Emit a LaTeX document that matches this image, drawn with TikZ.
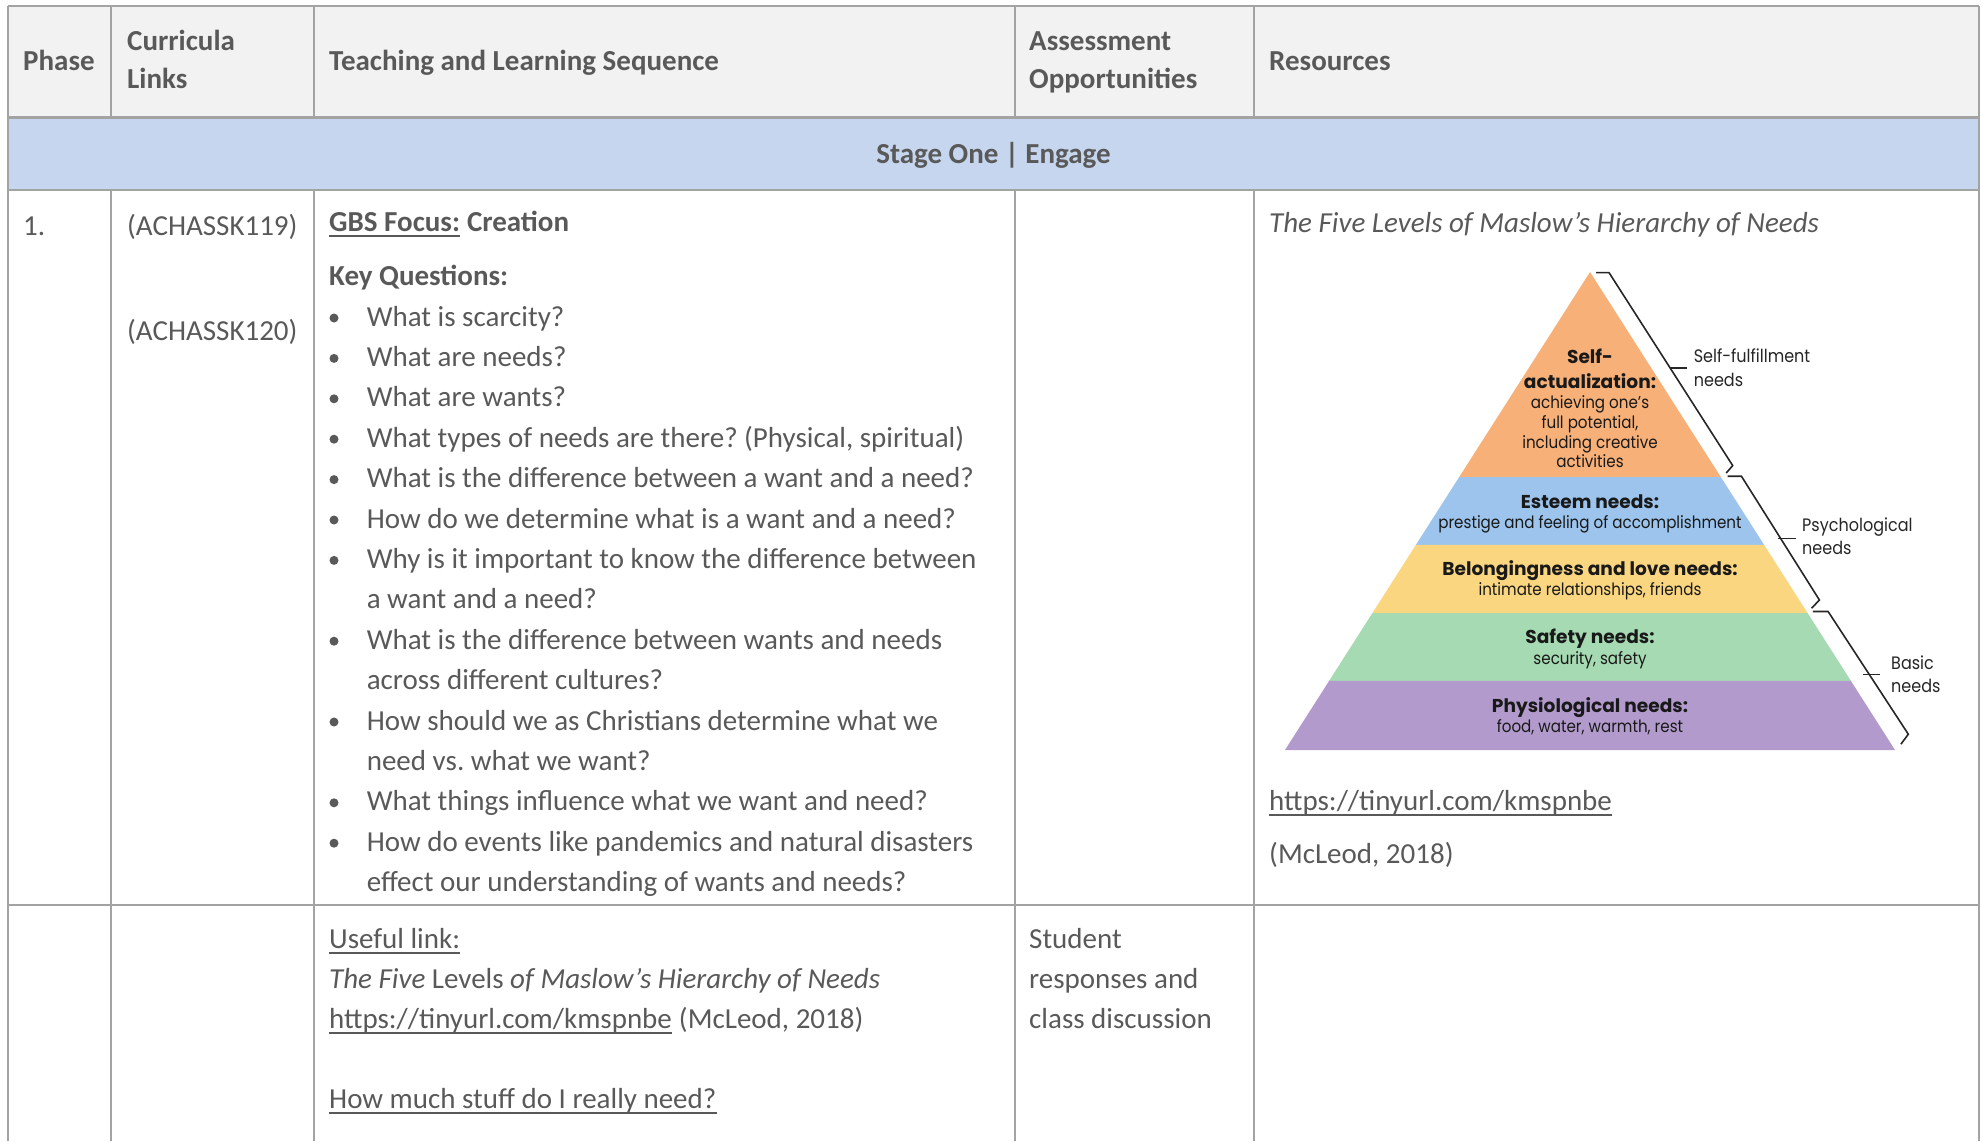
\documentclass[tikz,border=0pt]{standalone}
\usepackage{fontspec}
\setmainfont{Carlito}
\newfontfamily\pyrfont[FakeStretch=0.89]{Poppins}
\newfontfamily\pyrheadfont{Poppins}
\usepackage{tikz}
\usetikzlibrary{calc}

\definecolor{textgrey}{HTML}{595959}
\definecolor{gridgrey}{HTML}{A3A3A3}
\definecolor{headfill}{HTML}{F2F2F2}
\definecolor{stagefill}{HTML}{C6D6EE}
\definecolor{pyrorange}{HTML}{F7B078}
\definecolor{pyrblue}{HTML}{9CC4EC}
\definecolor{pyryellow}{HTML}{FBD680}
\definecolor{pyrgreen}{HTML}{A6DAB2}
\definecolor{pyrpurple}{HTML}{B29BCC}

\frenchspacing
\begin{document}
\begin{tikzpicture}[
    x=1pt, y=-1pt,
    body_text_style/.style={anchor=base west, inner sep=0pt, text=textgrey, font=\fontsize{29}{40}\selectfont},
    head_text_style/.style={body_text_style, font=\fontsize{29}{40}\selectfont\bfseries},
    ital_text_style/.style={body_text_style, font=\fontsize{29}{40}\selectfont\itshape},
    pyr_text_style/.style={anchor=base, inner sep=0pt, text=black!90, font=\pyrfont\fontsize{17}{20}\selectfont},
    pyr_head_style/.style={pyr_text_style, font=\pyrheadfont\fontsize{18.6}{20}\selectfont\bfseries},
    pyr_label_style/.style={anchor=base west, inner sep=0pt, text=black!85, font=\pyrfont\fontsize{18}{24}\selectfont},
    grid_line_style/.style={draw=gridgrey, line width=2pt},
    rule_line_style/.style={draw=gridgrey, line width=2.8pt},
    under_line_style/.style={draw=textgrey, line width=1.8pt},
    brace_line_style/.style={draw=black!85, line width=1.6pt}
]
\useasboundingbox (0,0) rectangle (1982,1141);

% Table fills and rules
\fill[headfill] (8,6) rectangle (1979,117.5);
\fill[stagefill] (8,117.5) rectangle (1979,190);
\foreach \y in {6,117.5,190,905}
    \draw[rule_line_style] (8,\y) -- (1979,\y);
\foreach \x in {8,1979}
    \draw[grid_line_style] (\x,6) -- (\x,1141);
\foreach \x in {111,314,1015,1254} {
    \draw[grid_line_style] (\x,6) -- (\x,117.5);
    \draw[grid_line_style] (\x,190) -- (\x,1141);
}

% Header row
\node[head_text_style] (phase_head) at (23,70) {Phase};
\node[head_text_style] (links_head_a) at (127,50) {Curricula};
\node[head_text_style] (links_head_b) at (127,88) {Links};
\node[head_text_style] (seq_head) at (329,70) {Teaching and Learning Sequence};
\node[head_text_style] (assess_head_a) at (1029,50) {Assessment};
\node[head_text_style] (assess_head_b) at (1029,88) {Opportunities};
\node[head_text_style] (res_head) at (1269,70) {Resources};
\node[head_text_style, anchor=base] (stage_band) at (993.5,163) {Stage One | Engage};

% Row one
\node[body_text_style] (phase_num) at (23,235) {1.};
\node[body_text_style] (link_a) at (127,235) {(ACHASSK119)};
\node[body_text_style] (link_b) at (127,340) {(ACHASSK120)};
\node[head_text_style] (gbs_focus) at (329,231) {GBS Focus:};
\node[head_text_style, xshift=6.6pt] (gbs_topic) at (gbs_focus.base east) {Creation};
\draw[under_line_style] ([yshift=-5pt]gbs_focus.base west) -- ([yshift=-5pt]gbs_focus.base east);
\node[head_text_style] (key_q) at (329,285) {Key Questions:};

\foreach \i/\txt in {0/{What is scarcity?}, 1/{What are needs?}, 2/{What are wants?},
    3/{What types of needs are there? (Physical, spiritual)},
    4/{What is the difference between a want and a need?},
    5/{How do we determine what is a want and a need?},
    6/{Why is it important to know the difference between}, 7/{a want and a need?},
    8/{What is the difference between wants and needs}, 9/{across different cultures?},
    10/{How should we as Christians determine what we}, 11/{need vs. what we want?},
    12/{What things influence what we want and need?},
    13/{How do events like pandemics and natural disasters},
    14/{effect our understanding of wants and needs?}}
    \node[body_text_style] (q\i) at (366.6,{326+40.4*\i}) {\txt};
\foreach \i in {0,1,2,3,4,5,6,8,10,12,13}
    \fill[textgrey] (334,{326+40.4*\i-8}) circle (4.5);

\node[ital_text_style] (res_title) at (1269,232) {The Five Levels of Maslow's Hierarchy of Needs};
\node[body_text_style] (res_url) at (1269,810) {https://tinyurl.com/kmspnbe};
\draw[under_line_style] ([yshift=-5pt]res_url.base west) -- ([yshift=-5pt]res_url.base east);
\node[body_text_style] (res_cite) at (1269,863) {(McLeod, 2018)};

% Pyramid
\coordinate (apex) at (1590,272);
\coordinate (bl) at (1285,750);
\coordinate (br) at (1895,750);
\foreach \a/\b/\col in {0/0.4289/pyrorange, 0.4289/0.5711/pyrblue, 0.5711/0.7134/pyryellow,
    0.7134/0.8556/pyrgreen, 0.8556/1/pyrpurple}
    \fill[\col] ($(apex)!\a!(bl)$) -- ($(apex)!\b!(bl)$) -- ($(apex)!\b!(br)$) -- ($(apex)!\a!(br)$) -- cycle;

\foreach \y/\txt [count=\k] in {363/{Self-}, 388/{actualization:}, 508/{Esteem needs:},
    575/{Belongingness and love needs:}, 643.5/{Safety needs:}, 712.5/{Physiological needs:}}
    \node[pyr_head_style] (pyr_head_\k) at (1590,\y) {\txt};
\foreach \y/\txt [count=\k] in {408.5/{achieving one’s}, 428.5/{full potential,},
    448.5/{including creative}, 467.5/{activities}, 528.5/{prestige and feeling of accomplishment},
    595/{intimate relationships, friends}, 664/{security, safety}, 732.5/{food, water, warmth, rest}}
    \node[pyr_text_style] (pyr_body_\k) at (1590,\y) {\txt};

% Braces on the right
\draw[brace_line_style] (1596,272.6) -- (1609,272.6) -- (1732.7,465.6) -- (1726.2,473);
\draw[brace_line_style] (1727.5,476.2) -- (1741.4,476.2) -- (1819.4,600) -- (1811.6,608.2);
\draw[brace_line_style] (1812.9,611.5) -- (1828.1,611.5) -- (1908.3,734.2) -- (1900.9,744.2);
\draw[brace_line_style] (1669.8,367.7) -- (1687,367.7);
\draw[brace_line_style] (1778.2,538.6) -- (1795.6,538.6);
\draw[brace_line_style] (1862.8,674.5) -- (1880.1,674.5);

\foreach \nm/\x/\y/\txt in {self_a/1693.6/362/{Self-fulfillment}, self_b/1693.6/386.5/needs,
    psych_a/1802/531/Psychological, psych_b/1802/554/needs,
    basic_a/1891/669/Basic, basic_b/1891/692/needs}
    \node[pyr_label_style] (lab_\nm) at (\x,\y) {\txt};

% Row two
\node[body_text_style] (useful_link) at (329,948) {Useful link:};
\draw[under_line_style] ([yshift=-5pt]useful_link.base west) -- ([yshift=-5pt]useful_link.base east);
\node[body_text_style] (link_title) at (329,988) {\itshape The Five \upshape Levels \itshape of Maslow’s Hierarchy of Needs};
\node[body_text_style] (link_url) at (329,1028) {https://tinyurl.com/kmspnbe};
\draw[under_line_style] ([yshift=-5pt]link_url.base west) -- ([yshift=-5pt]link_url.base east);
\node[body_text_style, xshift=6.6pt] (link_cite) at (link_url.base east) {(McLeod, 2018)};
\node[body_text_style] (stuff_link) at (329,1108) {How much stuff do I really need?};
\draw[under_line_style] ([yshift=-5pt]stuff_link.base west) -- ([yshift=-5pt]stuff_link.base east);

\node[body_text_style] (assess_a) at (1029,948) {Student};
\node[body_text_style] (assess_b) at (1029,988) {responses and};
\node[body_text_style] (assess_c) at (1029,1028) {class discussion};

\end{tikzpicture}
\end{document}
